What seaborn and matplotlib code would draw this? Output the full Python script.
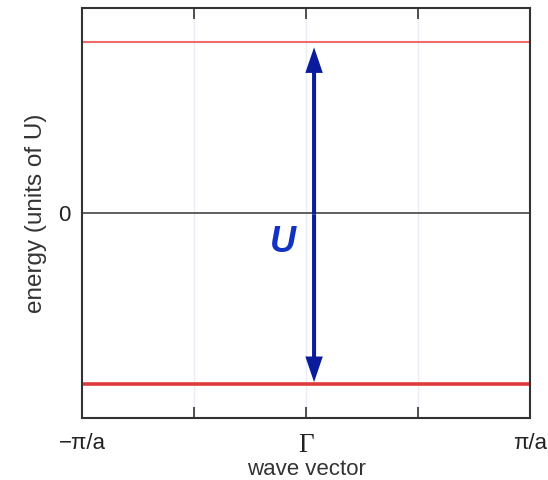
import numpy as np
import pandas as pd
import matplotlib
matplotlib.use("Agg")
import matplotlib.pyplot as plt
import seaborn as sns

# Wave-vector range in units of pi/a, and the two flat bands (energy in units of U)
k_points = [-1.0, 1.0]
upper_band = [0.5, 0.5]
lower_band = [-0.5, -0.5]
zero_level = [0.0, 0.0]
gap_U = 1.0
tick_positions = [-1.0, -0.5, 0.0, 0.5, 1.0]
tick_labels = ["\u2212\u03c0/a", "", "\u0393", "", "\u03c0/a"]

sns.set_theme(style="white")
plt.rcParams["font.family"] = ["Liberation Sans", "DejaVu Sans"]

fig = plt.figure(figsize=(5.48, 4.8), dpi=100)
ax = fig.add_axes([82 / 548, 62 / 480, 448 / 548, 410 / 480])

df = pd.DataFrame({
    "k": k_points * 3,
    "E": upper_band + lower_band + zero_level,
    "band": ["upper"] * 2 + ["lower"] * 2 + ["zero"] * 2,
})
sns.lineplot(data=df[df.band == "zero"], x="k", y="E", color="#444444", lw=1.2, ax=ax)
sns.lineplot(data=df[df.band == "upper"], x="k", y="E", color="#f06a6a", lw=1.5, ax=ax)
sns.lineplot(data=df[df.band == "lower"], x="k", y="E", color="#e03a3a", lw=2.6, ax=ax)

ax.set_xlim(-1, 1)
ax.set_ylim(-0.6, 0.6)

# faint vertical guides
for xv in tick_positions[1:-1]:
    ax.axvline(xv, color="#ececf4", lw=1.0, zorder=0)

ax.set_xticks(tick_positions)
ax.set_xticklabels(tick_labels)
ax.tick_params(axis="x", direction="in", length=8, width=1.2, color="#333333",
               top=True, bottom=True, labelsize=16, pad=11, labelcolor="#222222")
for lbl in ax.get_xticklabels():
    if lbl.get_text() == "\u0393":
        lbl.set_family(["Liberation Serif", "DejaVu Serif"])
        lbl.set_fontsize(19.5)
ax.set_yticks([0])
ax.set_yticklabels(["0"])
ax.tick_params(axis="y", length=0, labelsize=16, pad=8, labelcolor="#222222")

ax.set_xlabel("wave vector", fontsize=16, color="#333333")
ax.xaxis.set_label_coords(0.5, -0.1)
ax.set_ylabel("energy (units of U)", fontsize=17.5, color="#333333")
ax.yaxis.set_label_coords(-0.078, 0.5)

for sp in ax.spines.values():
    sp.set_color("#333333")
    sp.set_linewidth(1.5)

# double-headed arrow spanning the gap U, drawn as two sharp arrows from the middle
x_arrow = 0.036
top_tip = 0.5 - 0.015
bot_tip = -0.5 + 0.005
mid = 0.5 * (top_tip + bot_tip)
arrow_kw = dict(width=0.018, head_width=0.078, head_length=0.075,
                length_includes_head=True, color="#0a1c9c", lw=0, zorder=5)
ax.arrow(x_arrow, mid, 0, top_tip - mid, **arrow_kw)
ax.arrow(x_arrow, mid, 0, bot_tip - mid, **arrow_kw)

ax.text(-0.103, -0.087, "U", color="#1232c4", fontsize=26, fontweight="bold",
        fontstyle="italic", ha="center", va="center",
        family=["Liberation Sans", "DejaVu Sans"])

fig.savefig("out.png", dpi=100)
